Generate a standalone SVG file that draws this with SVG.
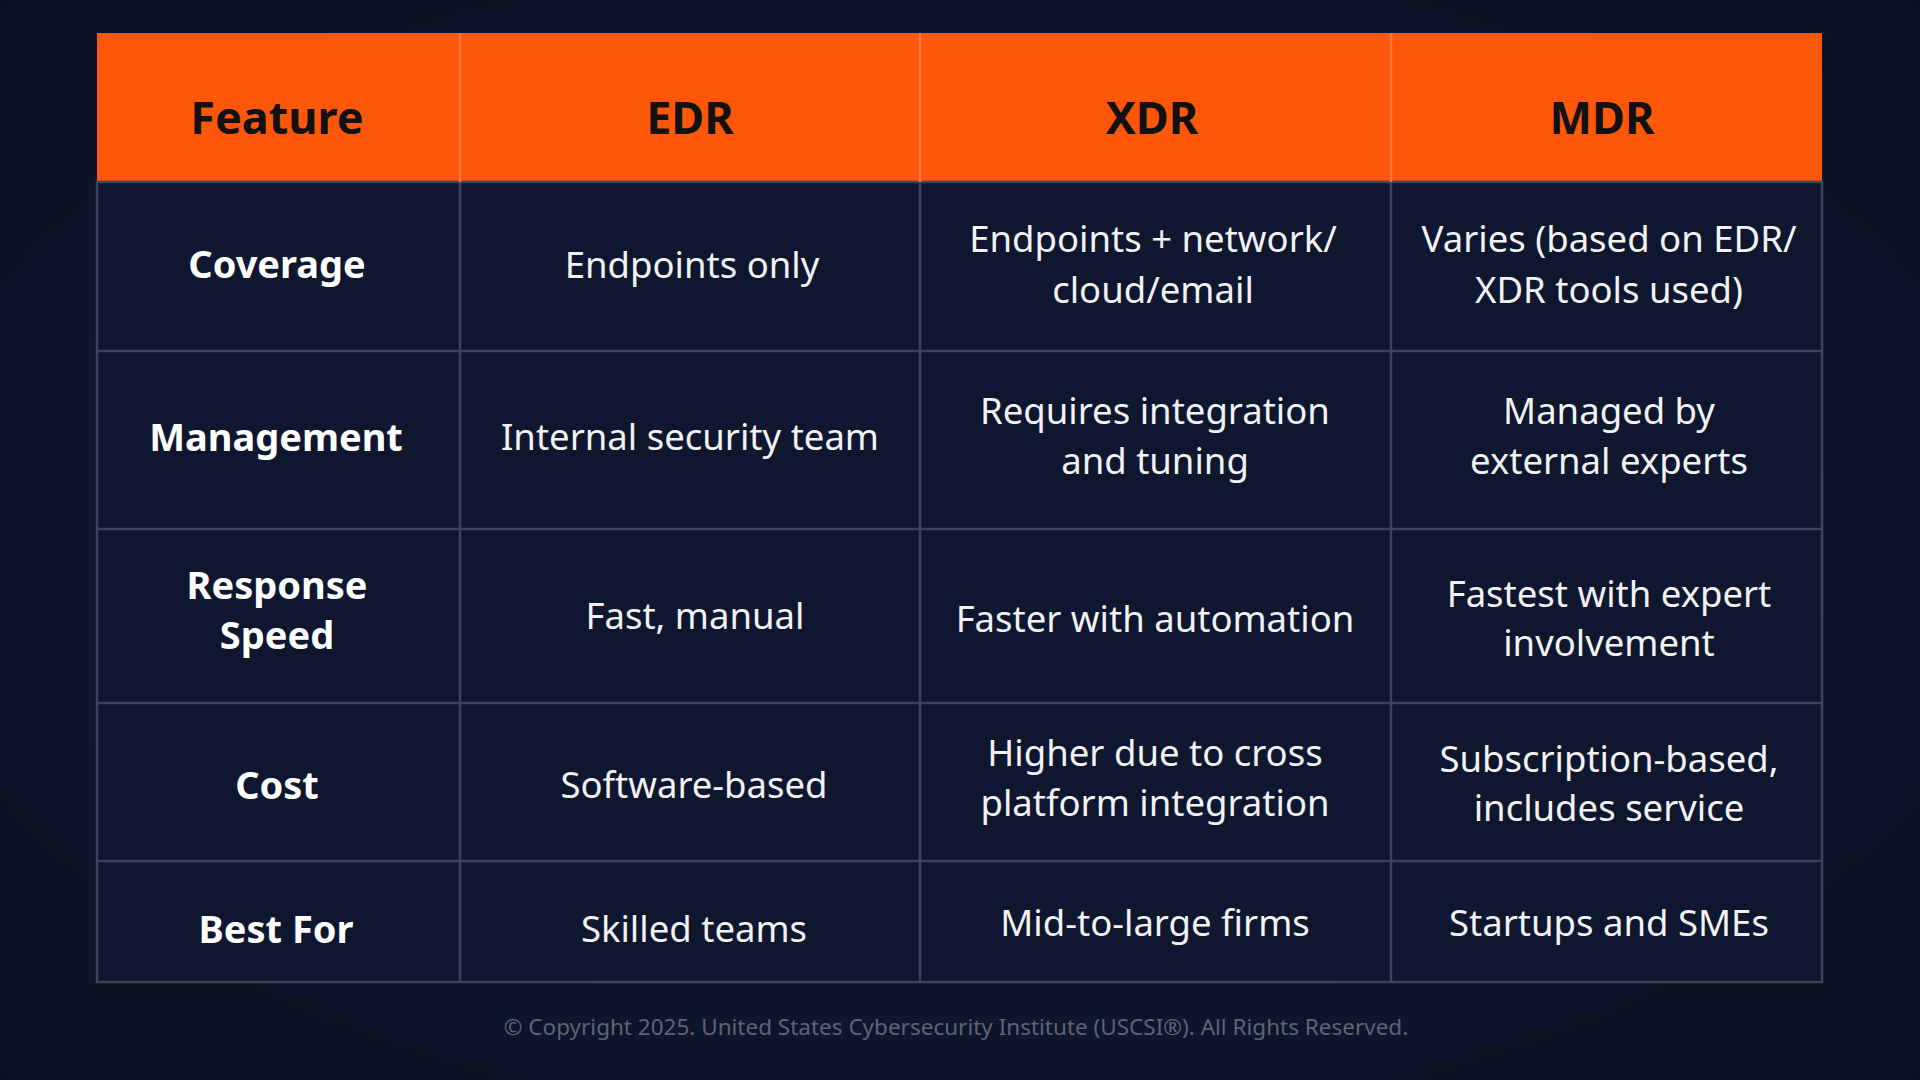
<svg xmlns="http://www.w3.org/2000/svg" width="1920" height="1080" viewBox="0 0 1920 1080">
<defs>
<radialGradient id="bg" cx="50%" cy="50%" r="75%">
<stop offset="0" stop-color="#131d3a"/><stop offset="1" stop-color="#0a1122"/>
</radialGradient>
<style>
text{font-family:"Noto Sans","Open Sans","Liberation Sans",sans-serif;text-anchor:middle;dominant-baseline:central}
.h{font-size:45px;font-weight:bold;fill:#111}
.f{font-size:38px;font-weight:bold;fill:#fff}
.c{font-size:36.5px;fill:#f2f2f2}
.ln{stroke:#3d4459;stroke-width:2.5;fill:none}
</style>
</defs>
<rect width="1920" height="1080" fill="url(#bg)"/>
<g id="table">
<rect x="97" y="182" width="1725" height="800" fill="#0e1630"/>
<rect x="97" y="33" width="1725" height="149" fill="#ff570a"/>
<g class="ln">
<line x1="460" y1="182" x2="460" y2="982"/>
<line x1="920" y1="182" x2="920" y2="982"/>
<line x1="1391" y1="182" x2="1391" y2="982"/>
<line x1="97" y1="351" x2="1822" y2="351"/>
<line x1="97" y1="529" x2="1822" y2="529"/>
<line x1="97" y1="703" x2="1822" y2="703"/>
<line x1="97" y1="861" x2="1822" y2="861"/>
<rect x="97" y="182" width="1725" height="800"/>
</g>
<line x1="460" y1="33" x2="460" y2="182" stroke="#ff7a35" stroke-width="2.5"/>
<line x1="920" y1="33" x2="920" y2="182" stroke="#ff7a35" stroke-width="2.5"/>
<line x1="1391" y1="33" x2="1391" y2="182" stroke="#ff7a35" stroke-width="2.5"/>
</g>
<g id="header">
<text class="h" x="277" y="116">Feature</text>
<text class="h" x="690" y="116">EDR</text>
<text class="h" x="1152" y="116">XDR</text>
<text class="h" x="1602" y="116">MDR</text>
</g>
<g id="row-coverage">
<text class="f" x="277" y="263">Coverage</text>
<text class="c" x="692" y="264">Endpoints only</text>
<text class="c" x="1153" y="238">Endpoints + network/</text>
<text class="c" x="1153" y="289">cloud/email</text>
<text class="c" x="1609" y="238">Varies (based on EDR/</text>
<text class="c" x="1609" y="289">XDR tools used)</text>
</g>
<g id="row-management">
<text class="f" x="276" y="436">Management</text>
<text class="c" x="690" y="436">Internal security team</text>
<text class="c" x="1155" y="410">Requires integration</text>
<text class="c" x="1155" y="460">and tuning</text>
<text class="c" x="1609" y="410">Managed by</text>
<text class="c" x="1609" y="460">external experts</text>
</g>
<g id="row-speed">
<text class="f" x="277" y="584">Response</text>
<text class="f" x="277" y="634">Speed</text>
<text class="c" x="695" y="615">Fast, manual</text>
<text class="c" x="1155" y="618">Faster with automation</text>
<text class="c" x="1609" y="593">Fastest with expert</text>
<text class="c" x="1609" y="642">involvement</text>
</g>
<g id="row-cost">
<text class="f" x="277" y="784">Cost</text>
<text class="c" x="694" y="784">Software-based</text>
<text class="c" x="1155" y="752">Higher due to cross</text>
<text class="c" x="1155" y="802">platform integration</text>
<text class="c" x="1609" y="758">Subscription-based,</text>
<text class="c" x="1609" y="807">includes service</text>
</g>
<g id="row-best">
<text class="f" x="276" y="928">Best For</text>
<text class="c" x="694" y="928">Skilled teams</text>
<text class="c" x="1155" y="922">Mid-to-large firms</text>
<text class="c" x="1609" y="922">Startups and SMEs</text>
</g>
<text x="956" y="1026" style="font-size:22.5px;fill:#5d6478">© Copyright 2025. United States Cybersecurity Institute (USCSI®). All Rights Reserved.</text>
</svg>
